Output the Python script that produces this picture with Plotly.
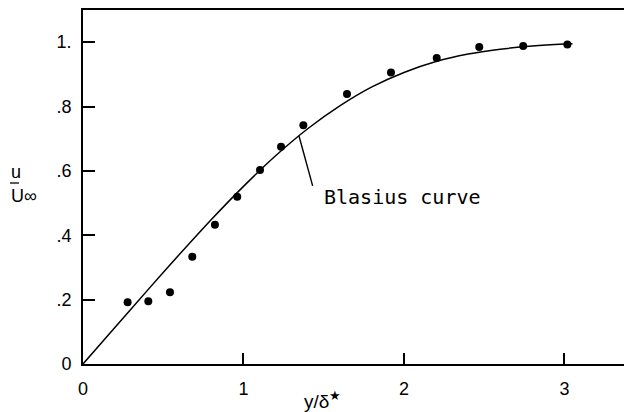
import numpy as np
import plotly.graph_objects as go

# Measured velocity profile: u/U_inf against y/delta*
y_over_delta = [0.278, 0.407, 0.542, 0.681, 0.822, 0.961, 1.103, 1.234, 1.373,
                1.645, 1.919, 2.204, 2.469, 2.743, 3.018]
u_over_U = [0.192, 0.195, 0.223, 0.333, 0.433, 0.520, 0.603, 0.675, 0.742,
            0.839, 0.906, 0.951, 0.985, 0.988, 0.993]

# Blasius profile, tabulated in y/delta*
blasius_x = [0.0, 0.2, 0.4, 0.6, 0.8, 1.0, 1.2, 1.4, 1.6, 1.8, 2.0, 2.2, 2.4,
             2.6, 2.8, 3.0, 3.05]
blasius_u = [0.0, 0.114, 0.228, 0.340, 0.449, 0.552, 0.647, 0.731, 0.802,
             0.861, 0.906, 0.940, 0.963, 0.978, 0.988, 0.994, 0.995]

x_ticks = [0, 1, 2, 3]
x_ticktext = ["0", "1", "2", "3"]
y_ticks = [0, 0.2, 0.4, 0.6, 0.8, 1.0]
y_ticktext = ["0", ".2", ".4", ".6", ".8", "1."]

W, H = 624, 412
ML, MR, MT, MB = 83, 0, 10, 48
X_RANGE = [0, 3.371]
Y_RANGE = [0, 1.10]


def px_to_paper(px, py):
    return (px - ML) / (W - ML - MR), (H - MB - py) / (H - MT - MB)


fig = go.Figure()

fig.add_trace(go.Scatter(
    x=blasius_x, y=blasius_u, mode="lines",
    line=dict(color="black", width=1.5, shape="spline", smoothing=0.6),
    hoverinfo="skip", showlegend=False,
))
fig.add_trace(go.Scatter(
    x=y_over_delta, y=u_over_U, mode="markers",
    marker=dict(color="black", size=8),
    showlegend=False,
))

# leader from the curve to its label
lead_x = 1.346
lead_y = float(np.interp(lead_x, blasius_x, blasius_u))
fig.add_shape(type="line", x0=lead_x, y0=lead_y, x1=lead_x + 0.085, y1=lead_y - 0.155,
              xref="x", yref="y", line=dict(color="black", width=1.4))
fig.add_annotation(x=1.489, y=0.519, xref="x", yref="y", text="Blasius curve",
                   showarrow=False, xanchor="left", yanchor="middle",
                   font=dict(family="DejaVu Sans Mono", size=20, color="black"))

# axis titles
tx, ty = px_to_paper(322, 400)
fig.add_annotation(x=tx, y=ty, xref="paper", yref="paper", text="y/δ<sup>★</sup>",
                   showarrow=False, xanchor="center", yanchor="middle",
                   font=dict(family="Liberation Sans", size=19, color="black"))
ux, uy = px_to_paper(9, 172)
fig.add_annotation(x=ux, y=uy, xref="paper", yref="paper", text="u",
                   showarrow=False, xanchor="left", yanchor="middle",
                   font=dict(family="Liberation Sans", size=18, color="black"))
bx0, by = px_to_paper(10, 183)
bx1, _ = px_to_paper(19, 183)
fig.add_shape(type="line", x0=bx0, x1=bx1, y0=by, y1=by, xref="paper", yref="paper",
              line=dict(color="black", width=1.3))
Ux, Uy = px_to_paper(9, 196)
fig.add_annotation(x=Ux, y=Uy, xref="paper", yref="paper", text="U∞",
                   showarrow=False, xanchor="left", yanchor="middle",
                   font=dict(family="Liberation Sans", size=18, color="black"))

axis_font = dict(family="Liberation Sans", size=18, color="black")
fig.update_xaxes(range=X_RANGE, tickvals=x_ticks, ticktext=x_ticktext,
                 ticks="inside", ticklen=11, tickwidth=1.5, tickcolor="black",
                 showline=True, linecolor="black", linewidth=1.6, mirror=True,
                 showgrid=False, zeroline=False, tickfont=axis_font,
                 ticklabelstandoff=8)
fig.update_yaxes(range=Y_RANGE, tickvals=y_ticks, ticktext=y_ticktext,
                 ticks="inside", ticklen=12, tickwidth=1.5, tickcolor="black",
                 showline=True, linecolor="black", linewidth=1.6,
                 showgrid=False, zeroline=False, tickfont=axis_font,
                 ticklabelstandoff=6)

fig.update_layout(width=W, height=H,
                  margin=dict(l=ML, r=MR, t=MT, b=MB),
                  paper_bgcolor="white", plot_bgcolor="white")

fig.write_html("out.html")
